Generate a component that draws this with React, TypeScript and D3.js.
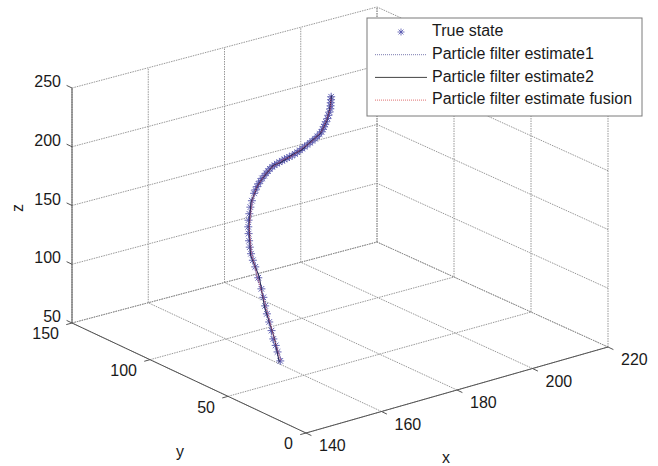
import React from "react";
import * as d3 from "d3";

// tick values
const xTicks = [140, 160, 180, 200, 220];
const yTicks = [0, 50, 100, 150];
const zTicks = [50, 100, 150, 200, 250];

// true state (bottom to top)
const trueX = [157.9, 157.6, 157.4, 157.1, 157.0, 156.8, 156.6, 156.5, 156.4, 156.3, 156.0, 155.7, 155.4, 155.2, 155.2, 155.3, 155.5, 155.7, 156.1,
  156.6, 157.2, 157.9, 158.8, 159.3, 159.9, 160.4, 161.0, 161.6, 162.3, 162.9, 163.5, 164.1, 164.8, 165.5, 166.2, 166.9, 167.7, 168.4, 169.1, 169.8,
  170.6, 171.4, 172.1, 172.9, 173.6, 174.3, 175.1, 175.9, 176.6, 177.4, 178.1, 178.8, 179.4, 179.9, 180.3, 180.7, 181.1, 181.6, 182.0, 182.4,
  182.8, 183.0, 183.2, 183.4, 183.6];
const trueY = [60.0, 61.0, 61.7, 62.5, 63.4, 64.4, 65.4, 66.3, 67.2, 68.2, 69.5, 70.7, 71.5, 72.2, 73.0, 73.7, 74.5, 75.2, 76.0,
  76.7, 77.5, 78.2, 79.0, 79.4, 79.8, 80.1, 80.4, 80.7, 81.0, 81.3, 81.5, 81.8, 82.0, 82.2, 82.4, 82.5, 82.7, 82.9, 83.0, 83.2,
  83.3, 83.5, 83.7, 84.0, 84.2, 84.4, 84.6, 84.8, 85.0, 85.2, 85.5, 85.7, 86.0, 86.3, 86.6, 86.9, 87.2, 87.5, 87.9, 88.2,
  88.6, 88.9, 89.3, 89.6, 90.0];
const trueZ = [57.9, 65.2, 70.5, 75.8, 82.4, 89.3, 95.8, 102.1, 108.9, 115.6, 124.5, 133.3, 138.7, 144.0, 149.1, 154.0, 159.4, 164.6, 169.4,
  174.0, 178.6, 183.0, 188.0, 190.2, 192.2, 194.0, 195.6, 197.2, 198.6, 200.0, 201.2, 202.4, 203.4, 204.0, 204.6, 205.1, 205.6, 206.0, 206.3, 206.6,
  207.0, 207.6, 208.3, 209.0, 209.7, 210.5, 211.4, 212.3, 213.2, 214.2, 215.4, 216.6, 217.8, 219.3, 220.9, 222.5, 224.1, 226.2, 228.4, 230.6,
  232.8, 235.0, 237.2, 239.4, 241.5];

// particle filter estimate 1
const est1X = [158.4, 156.7, 156.9, 155.6, 155.6, 155.3, 158.3, 159.5, 162.8, 164.4, 168.1, 170.2, 174.0, 176.2, 179.8, 180.7, 183.2, 183.3];
const est1Y = [60.5, 62.1, 66.8, 69.1, 72.6, 74.8, 78.6, 79.4, 81.4, 81.6, 83.1, 82.9, 84.6, 84.6, 86.4, 86.8, 89.0, 89.6];
const est1Z = [58.6, 75.1, 102.8, 123.9, 144.7, 164.0, 183.7, 191.5, 199.3, 202.8, 206.3, 206.4, 210.4, 212.6, 218.5, 223.5, 233.5, 240.8];

// particle filter estimate 2
const est2X = [157.5, 157.5, 156.2, 156.4, 154.9, 156.1, 157.5, 160.3, 161.9, 165.2, 167.3, 171.0, 173.2, 177.0, 179.0, 181.5, 182.4, 183.9];
const est2Y = [59.6, 62.9, 65.9, 69.9, 71.8, 75.6, 77.8, 80.2, 80.6, 82.4, 82.3, 83.7, 83.8, 85.4, 85.6, 87.6, 88.2, 90.4];
const est2Z = [57.2, 76.5, 101.4, 125.1, 143.3, 165.2, 182.3, 192.9, 197.9, 204.0, 204.9, 207.6, 209.0, 213.8, 217.1, 224.7, 232.1, 242.2];

// fusion estimate
const fusX = [158.1, 157.3, 156.7, 155.8, 155.4, 155.9, 158.1, 159.7, 162.5, 164.6, 167.9, 170.4, 173.8, 176.4, 179.6, 180.9, 183.0, 183.4];
const fusY = [60.2, 62.3, 66.5, 69.3, 72.4, 75.0, 78.4, 79.6, 81.2, 81.8, 82.9, 83.1, 84.4, 84.8, 86.2, 87.0, 88.8, 89.8];
const fusZ = [58.2, 75.5, 102.4, 124.2, 144.4, 164.3, 183.4, 191.8, 199.0, 203.1, 206.0, 206.7, 210.1, 212.9, 218.2, 223.8, 233.2, 241.1];

const legendLabels = ["True state", "Particle filter estimate1", "Particle filter estimate2", "Particle filter estimate fusion"];

const W = 658;
const H = 466;
const FONT = "'Liberation Sans', Arial, sans-serif";

// screen corners of the floor (z = 50)
const P00 = [306, 433]; // x=140, y=0
const P10 = [608, 347]; // x=220, y=0
const P01 = [72, 323]; // x=140, y=150
const P11 = [377, 242]; // x=220, y=150

const xs = d3.scaleLinear().domain([140, 220]).range([0, 1]);
const ys = d3.scaleLinear().domain([0, 150]).range([0, 1]);
const zs = d3.scaleLinear().domain([50, 250]).range([0, 235]);

function project(x: number, y: number, z: number): [number, number] {
  const a = xs(x);
  const b = ys(y);
  const w00 = (1 - a) * (1 - b), w10 = a * (1 - b), w01 = (1 - a) * b, w11 = a * b;
  const sx = w00 * P00[0] + w10 * P10[0] + w01 * P01[0] + w11 * P11[0];
  const sy = w00 * P00[1] + w10 * P10[1] + w01 * P01[1] + w11 * P11[1] - zs(z);
  return [sx, sy];
}

const line = d3.line<[number, number]>().x((d) => d[0]).y((d) => d[1]);

const toPts = (X: number[], Y: number[], Z: number[]) => X.map((x, i) => project(x, Y[i], Z[i]));

export default function App() {
  const x0 = 140, x1 = 220, y0 = 0, y1 = 150, z0 = 50, z1 = 250;
  const grid: [number, number][][] = [];
  // floor
  xTicks.forEach((x) => grid.push([project(x, y0, z0), project(x, y1, z0)]));
  yTicks.forEach((y) => grid.push([project(x0, y, z0), project(x1, y, z0)]));
  // back wall y = 150
  xTicks.forEach((x) => grid.push([project(x, y1, z0), project(x, y1, z1)]));
  zTicks.forEach((z) => grid.push([project(x0, y1, z), project(x1, y1, z)]));
  // right wall x = 220
  yTicks.forEach((y) => grid.push([project(x1, y, z0), project(x1, y, z1)]));
  zTicks.forEach((z) => grid.push([project(x1, y0, z), project(x1, y1, z)]));

  const axes: [number, number][][] = [
    [project(x0, y1, z0), project(x0, y1, z1)],
    [project(x0, y0, z0), project(x0, y1, z0)],
    [project(x0, y0, z0), project(x1, y0, z0)],
  ];

  const truePts = toPts(trueX, trueY, trueZ);
  const e1 = toPts(est1X, est1Y, est1Z);
  const e2 = toPts(est2X, est2Y, est2Z);
  const ef = toPts(fusX, fusY, fusZ);

  const star = (cx: number, cy: number, r: number) =>
    `M${cx - r},${cy}L${cx + r},${cy}M${cx},${cy - r}L${cx},${cy + r}` +
    `M${cx - r * 0.7},${cy - r * 0.7}L${cx + r * 0.7},${cy + r * 0.7}M${cx - r * 0.7},${cy + r * 0.7}L${cx + r * 0.7},${cy - r * 0.7}`;

  const blue = "#5252ac";
  const tk = 6;

  return (
    <svg width={W} height={H} style={{ position: "absolute", left: 0, top: 0, background: "#fff" }} fontFamily={FONT}>
      <rect x={0} y={0} width={W} height={H} fill="#fff" />
      {grid.map((g, i) => (
        <line key={"g" + i} x1={g[0][0]} y1={g[0][1]} x2={g[1][0]} y2={g[1][1]} stroke="#8c8c8c" strokeWidth={0.9} strokeDasharray="1.5,1" />
      ))}
      {axes.map((g, i) => (
        <line key={"a" + i} x1={g[0][0]} y1={g[0][1]} x2={g[1][0]} y2={g[1][1]} stroke="#555" strokeWidth={1} />
      ))}
      {/* z ticks */}
      {zTicks.map((z) => {
        const [px, py] = project(x0, y1, z);
        return (
          <g key={"zt" + z}>
            <line x1={px} y1={py} x2={px - tk * 0.9} y2={py - tk * 0.43} stroke="#555" />
            <text x={px - 11} y={py - 5} textAnchor="end" dominantBaseline="middle" fontSize={16} fill="#1a1a1a">{z}</text>
          </g>
        );
      })}
      {yTicks.map((y) => {
        const [px, py] = project(x0, y, z0);
        return (
          <g key={"yt" + y}>
            <line x1={px} y1={py} x2={px - tk * 0.96} y2={py + tk * 0.27} stroke="#555" />
            <text x={px - 13} y={py + 12} textAnchor="end" dominantBaseline="middle" fontSize={16} fill="#1a1a1a">{y}</text>
          </g>
        );
      })}
      {xTicks.map((x) => {
        const [px, py] = project(x, y0, z0);
        return (
          <g key={"xt" + x}>
            <line x1={px} y1={py} x2={px + tk * 0.9} y2={py + tk * 0.43} stroke="#555" />
            <text x={px + 13} y={py + 14} textAnchor="start" dominantBaseline="middle" fontSize={16} fill="#1a1a1a">{x}</text>
          </g>
        );
      })}
      <text x={23} y={208} transform="rotate(-90 23 208)" textAnchor="middle" fontSize={16} fill="#1a1a1a">z</text>
      <text x={180} y={457} textAnchor="middle" fontSize={16} fill="#1a1a1a">y</text>
      <text x={446} y={463} textAnchor="middle" fontSize={16} fill="#1a1a1a">x</text>

      {/* data */}
      <path d={truePts.map((p) => star(p[0], p[1], 4)).join("")} stroke={blue} strokeWidth={0.9} fill="none" />
      <path d={line(e1) || ""} stroke="#5a5aa8" strokeWidth={1.2} strokeDasharray="1,1" fill="none" />
      <path d={line(e2) || ""} stroke="#2a2a5a" strokeWidth={1.1} fill="none" />
      <path d={line(ef) || ""} stroke="#c85a7a" strokeWidth={1} strokeDasharray="1,1" fill="none" />

      {/* legend */}
      <rect x={367} y={18} width={275} height={98} fill="#fff" stroke="#7a7a7a" strokeWidth={1} />
      {legendLabels.map((lab, i) => {
        const ly = 32 + i * 22.7;
        return (
          <g key={"l" + i}>
            {i === 0 && <path d={star(401, ly, 3.5)} stroke={blue} strokeWidth={0.8} fill="none" />}
            {i === 1 && <line x1={375} x2={427} y1={ly} y2={ly} stroke="#7a7ab0" strokeDasharray="1,1" />}
            {i === 2 && <line x1={375} x2={427} y1={ly} y2={ly} stroke="#444" />}
            {i === 3 && <line x1={375} x2={427} y1={ly} y2={ly} stroke="#e07070" strokeDasharray="1,1" />}
            <text x={432} y={ly} dominantBaseline="middle" fontSize={16} fill="#1a1a1a">{lab}</text>
          </g>
        );
      })}
    </svg>
  );
}
